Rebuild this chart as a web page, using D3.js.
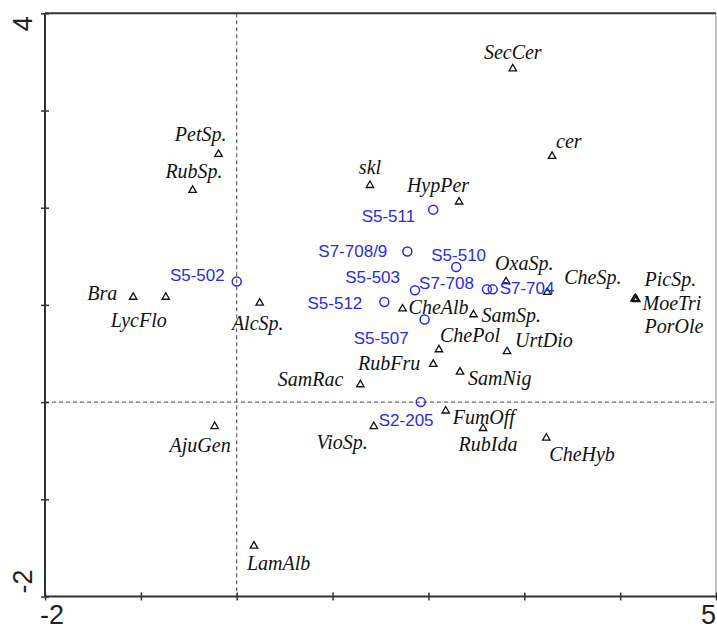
<!DOCTYPE html>
<html>
<head>
<meta charset="utf-8">
<script src="https://cdn.jsdelivr.net/npm/d3@7"></script>
<style>
  html, body { margin: 0; padding: 0; background: #fff; }
  svg { display: block; }
</style>
</head>
<body>
<div id="chart"></div>
<script>
// Ordination scores: species (triangles) and relevés (circles)
const speciesNames = ["SecCer", "cer", "PetSp.", "RubSp.", "skl", "HypPer", "Bra", "LycFlo",
  "AlcSp.", "CheAlb", "SamSp.", "OxaSp.", "CheSp.", "PicSp.", "MoeTri", "PorOle", "ChePol",
  "RubFru", "SamRac", "SamNig", "UrtDio", "FumOff", "RubIda", "CheHyb", "VioSp.", "AjuGen", "LamAlb"];
const speciesAxis1 = [2.88, 3.29, -0.19, -0.46, 1.39, 2.32, -1.08, -0.74,
  0.24, 1.73, 2.47, 2.81, 3.24, 4.15, 4.16, 4.17, 2.11,
  2.05, 1.29, 2.33, 2.82, 2.18, 2.57, 3.23, 1.43, -0.23, 0.18];
const speciesAxis2 = [3.43, 2.53, 2.55, 2.18, 2.23, 2.06, 1.08, 1.08,
  1.02, 0.96, 0.90, 1.24, 1.13, 1.06, 1.065, 1.055, 0.54,
  0.39, 0.18, 0.31, 0.52, -0.09, -0.27, -0.37, -0.25, -0.25, -1.48];

const sampleNames = ["S5-502", "S5-511", "S7-708/9", "S5-510", "S5-503", "S7-708", "S7-704",
  "S5-512", "S5-507", "S2-205"];
const sampleAxis1 = [0.00, 2.05, 1.78, 2.29, 1.86, 2.61, 2.67, 1.54, 1.96, 1.92];
const sampleAxis2 = [1.24, 1.98, 1.55, 1.39, 1.15, 1.16, 1.16, 1.03, 0.85, 0.00];

const xTicks = [-2, -1, 0, 1, 2, 3, 4, 5];
const yTicks = [-2, -1, 0, 1, 2, 3, 4];
const xTickLabels = ["-2", "5"];
const yTickLabels = ["-2", "4"];

// Label placement: [text-anchor, dx, dy] relative to the mark
const speciesLabelPlacement = {
  "SecCer": ["middle", 0, -10], "cer": ["start", 4, -8], "PetSp.": ["end", 8, -13],
  "RubSp.": ["end", 30, -12], "skl": ["middle", 0, -11], "HypPer": ["end", 10, -10],
  "Bra": ["end", -16, 3], "LycFlo": ["end", 1, 30], "AlcSp.": ["middle", -2, 27],
  "CheAlb": ["start", 6, 5], "SamSp.": ["start", 8, 7], "OxaSp.": ["start", -11, -12],
  "CheSp.": ["start", 17, -8], "PicSp.": ["start", 10, -13], "MoeTri": ["start", 7, 11],
  "PorOle": ["start", 8, 33], "ChePol": ["start", 1, -8], "RubFru": ["end", -13, 6],
  "SamRac": ["end", -17, 1], "SamNig": ["start", 8, 13], "UrtDio": ["start", 8, -5],
  "FumOff": ["start", 7, 13], "RubIda": ["middle", 5, 23], "CheHyb": ["start", 3, 23],
  "VioSp.": ["end", -6, 23], "AjuGen": ["end", 16, 26], "LamAlb": ["start", -7, 24]
};
const sampleLabelPlacement = {
  "S5-502": ["end", -12, -1], "S5-511": ["end", -18, 12], "S7-708/9": ["end", -20, 6],
  "S5-510": ["start", -25, -6], "S5-503": ["end", -15, -7], "S7-708": ["end", -13, 0],
  "S7-704": ["start", 7, 5], "S5-512": ["end", -22, 7], "S5-507": ["end", -16, 25],
  "S2-205": ["start", -42, 24]
};

const W = 717, H = 629;
const svg = d3.select("#chart").append("svg").attr("width", W).attr("height", H);

const x = d3.scaleLinear().domain([-2, 5]).range([45, 716]);
const y = d3.scaleLinear().domain([-2, 4]).range([596.5, 13.3]);

const axisColor = "#333";

// Zero lines
svg.append("line")
  .attr("x1", x(0)).attr("x2", x(0)).attr("y1", y(4)).attr("y2", y(-2))
  .attr("stroke", "#444").attr("stroke-width", 1).attr("stroke-dasharray", "4,3");
svg.append("line")
  .attr("x1", x(-2)).attr("x2", x(5)).attr("y1", y(0)).attr("y2", y(0))
  .attr("stroke", "#444").attr("stroke-width", 1).attr("stroke-dasharray", "4,3");

// Frame
svg.append("line").attr("x1", x(-2)).attr("x2", x(5)).attr("y1", y(4)).attr("y2", y(4))
  .attr("stroke", axisColor).attr("stroke-width", 2);
svg.append("line").attr("x1", x(5)).attr("x2", x(5)).attr("y1", y(4)).attr("y2", y(-2))
  .attr("stroke", "#888").attr("stroke-width", 1);

// Bottom axis: ticks crossing the axis line
const xAxis = d3.axisBottom(x).tickValues(xTicks).tickSizeInner(8).tickSizeOuter(0).tickFormat("");
const gx = svg.append("g").attr("transform", `translate(0,${y(-2) - 4})`).call(xAxis);
gx.select(".domain").remove();
gx.selectAll(".tick line").attr("stroke", axisColor).attr("stroke-width", 1.5);
svg.append("line").attr("x1", x(-2)).attr("x2", x(5)).attr("y1", y(-2)).attr("y2", y(-2))
  .attr("stroke", axisColor).attr("stroke-width", 2);

// Left axis
const yAxis = d3.axisLeft(y).tickValues(yTicks).tickSizeInner(8).tickSizeOuter(0).tickFormat("");
const gy = svg.append("g").attr("transform", `translate(${x(-2) + 4},0)`).call(yAxis);
gy.select(".domain").remove();
gy.selectAll(".tick line").attr("stroke", axisColor).attr("stroke-width", 1.5);
svg.append("line").attr("x1", x(-2)).attr("x2", x(-2)).attr("y1", y(4)).attr("y2", y(-2))
  .attr("stroke", axisColor).attr("stroke-width", 2);

// Axis end labels
const tickFont = "Liberation Sans, Arial, Helvetica, sans-serif";
svg.append("text").attr("x", x(-2) - 5).attr("y", 624).attr("text-anchor", "start")
  .attr("font-family", tickFont).attr("font-size", 27).attr("fill", "#222").text(xTickLabels[0]);
svg.append("text").attr("x", x(5)).attr("y", 624).attr("text-anchor", "end")
  .attr("font-family", tickFont).attr("font-size", 27).attr("fill", "#222").text(xTickLabels[1]);
svg.append("text").attr("transform", `translate(32,${y(-2) - 3}) rotate(-90)`).attr("text-anchor", "start")
  .attr("font-family", tickFont).attr("font-size", 27).attr("fill", "#222").text(yTickLabels[0]);
svg.append("text").attr("transform", `translate(32,${y(4) + 3}) rotate(-90)`).attr("text-anchor", "end")
  .attr("font-family", tickFont).attr("font-size", 27).attr("fill", "#222").text(yTickLabels[1]);

// Species
const species = speciesNames.map((n, i) => ({ name: n, a1: speciesAxis1[i], a2: speciesAxis2[i] }));
const tri = d3.symbol().type(d3.symbolTriangle).size(24);
svg.append("g").selectAll("path").data(species).join("path")
  .attr("d", tri)
  .attr("transform", d => `translate(${x(d.a1)},${y(d.a2)})`)
  .attr("fill", "none").attr("stroke", "#111").attr("stroke-width", 1.3);
svg.append("g").selectAll("text").data(species).join("text")
  .attr("x", d => x(d.a1) + speciesLabelPlacement[d.name][1])
  .attr("y", d => y(d.a2) + speciesLabelPlacement[d.name][2])
  .attr("text-anchor", d => speciesLabelPlacement[d.name][0])
  .attr("font-family", "Liberation Serif, Times New Roman, serif")
  .attr("font-style", "italic").attr("font-size", 20).attr("fill", "#111")
  .text(d => d.name);

// Samples
const samples = sampleNames.map((n, i) => ({ name: n, a1: sampleAxis1[i], a2: sampleAxis2[i] }));
svg.append("g").selectAll("circle").data(samples).join("circle")
  .attr("cx", d => x(d.a1)).attr("cy", d => y(d.a2)).attr("r", 4.5)
  .attr("fill", "none").attr("stroke", "#2a2ae6").attr("stroke-width", 1.5);
svg.append("g").selectAll("text").data(samples).join("text")
  .attr("x", d => x(d.a1) + sampleLabelPlacement[d.name][1])
  .attr("y", d => y(d.a2) + sampleLabelPlacement[d.name][2])
  .attr("text-anchor", d => sampleLabelPlacement[d.name][0])
  .attr("font-family", "Liberation Sans, Arial, Helvetica, sans-serif")
  .attr("font-size", 17).attr("fill", "#2a2ae6")
  .text(d => d.name);
</script>
</body>
</html>
